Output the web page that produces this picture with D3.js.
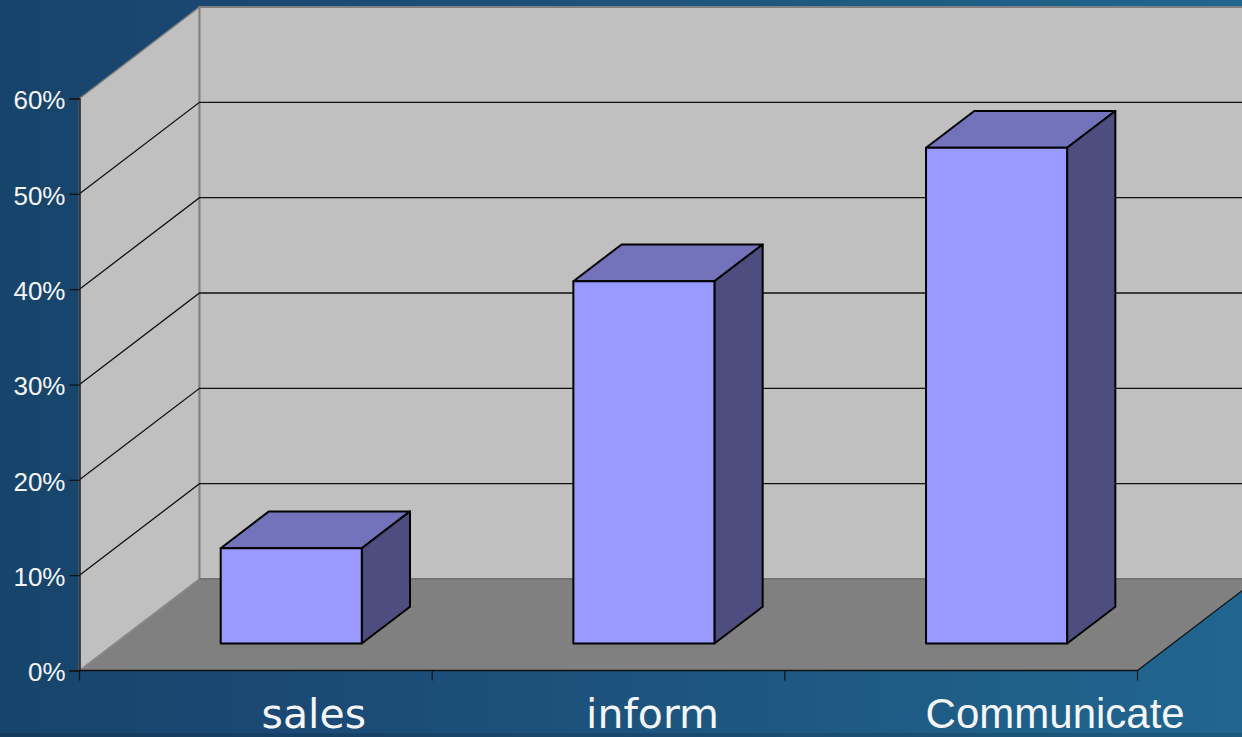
<!DOCTYPE html>
<html>
<head>
<meta charset="utf-8">
<script src="https://cdn.jsdelivr.net/npm/d3@7"></script>
<style>
  html, body { margin: 0; padding: 0; background: #1b4b72; overflow: hidden; }
  svg { display: block; font-family: "Liberation Sans", Arial, sans-serif; }
</style>
</head>
<body>
<svg id="chart" width="1242" height="737"></svg>
<script>
const categories = ["sales", "inform", "Communicate"];
const shares = [0.10, 0.38, 0.52];
const yTicks = [0, 0.1, 0.2, 0.3, 0.4, 0.5, 0.6];

// layout of the fake 3d box
const left = 79.5, right = 1137.5, bottom = 670.5, top60 = 98.5;
const depthX = 120, depthY = -91.5;
const barFront = 0.295, barBack = 0.697;
const labelShift = [58, 44, 94];
// the slide mixes two typefaces on the category labels
const labelFont = ["DejaVu Sans", "DejaVu Sans", "Liberation Sans"];
const labelSize = [41, 41, 42];
const labelBase = [728, 728, 728];

const svg = d3.select("#chart");

const defs = svg.append("defs");
const bg = defs.append("linearGradient").attr("id", "bg").attr("x1", "0%").attr("x2", "100%").attr("y1", "0%").attr("y2", "0%");
bg.append("stop").attr("offset", "0%").attr("stop-color", "#17446a");
bg.append("stop").attr("offset", "20%").attr("stop-color", "#1a4873");
bg.append("stop").attr("offset", "100%").attr("stop-color", "#21668f");

svg.append("rect").attr("width", 1242).attr("height", 737).attr("fill", "url(#bg)");
// darker strip along the bottom edge of the slide
svg.append("rect").attr("y", 733).attr("width", 1242).attr("height", 4).attr("fill", "#000").attr("opacity", 0.12);

const x = d3.scaleBand().domain(categories).range([left, right]).paddingInner(0.6).paddingOuter(0.3);
const y = d3.scaleLinear().domain([0, 0.6]).range([bottom, top60]);

const poly = (pts) => pts.map((p) => p.join(",")).join(" ");
const yMax = y(0.6), y0 = y(0);

// side wall
svg.append("polygon")
  .attr("points", poly([[left, y0], [left, yMax], [left + depthX, yMax + depthY], [left + depthX, y0 + depthY]]))
  .attr("fill", "#c0c0c0").attr("stroke", "#808080").attr("stroke-width", 1.5);

// back wall
svg.append("polygon")
  .attr("points", poly([[left + depthX, y0 + depthY], [left + depthX, yMax + depthY], [right + depthX, yMax + depthY], [right + depthX, y0 + depthY]]))
  .attr("fill", "#c0c0c0").attr("stroke", "#808080").attr("stroke-width", 2);

// floor
svg.append("polygon")
  .attr("points", poly([[left, y0], [right, y0], [right + depthX, y0 + depthY], [left + depthX, y0 + depthY]]))
  .attr("fill", "#808080");
svg.append("line")
  .attr("x1", left).attr("y1", y0).attr("x2", left + depthX).attr("y2", y0 + depthY)
  .attr("stroke", "#8c8c8c").attr("stroke-width", 1.5);
svg.append("line")
  .attr("x1", left + depthX).attr("y1", y0 + depthY).attr("x2", right + depthX).attr("y2", y0 + depthY)
  .attr("stroke", "#666").attr("stroke-width", 1);
svg.append("line")
  .attr("x1", right).attr("y1", y0).attr("x2", right + depthX).attr("y2", y0 + depthY)
  .attr("stroke", "#111").attr("stroke-width", 1.2);

// gridlines, skip 0 and the top edge
const grid = svg.append("g").attr("fill", "none").attr("stroke", "#111").attr("stroke-width", 1.3);
grid.selectAll("path").data(yTicks.slice(1, -1)).join("path")
  .attr("d", (t) => `M${left},${y(t)}L${left + depthX},${y(t) + depthY}H${right + depthX}`);

// bars
const px = (c, t) => x(c) + depthX * t;
const py = (v, t) => y(v) + depthY * t;
const w = x.bandwidth();

const bars = svg.append("g").attr("stroke", "#000").attr("stroke-width", 2).attr("stroke-linejoin", "round");
categories.forEach((c, i) => {
  const v = shares[i];
  const g = bars.append("g");
  const x0 = px(c, barFront), x1 = x0 + w;
  const x0b = px(c, barBack), x1b = x0b + w;
  const yT = py(v, barFront), yB = py(0, barFront);
  const yTb = py(v, barBack), yBb = py(0, barBack);
  g.append("polygon").attr("fill", "#7373bb")
    .attr("points", poly([[x0, yT], [x1, yT], [x1b, yTb], [x0b, yTb]]));
  g.append("polygon").attr("fill", "#4d4d7f")
    .attr("points", poly([[x1, yT], [x1b, yTb], [x1b, yBb], [x1, yB]]));
  g.append("rect").attr("fill", "#9999ff")
    .attr("x", x0).attr("y", yT).attr("width", w).attr("height", yB - yT);
});

// axes
const yAxis = d3.axisLeft(y).tickValues(yTicks).tickFormat(d3.format(".0%")).tickSize(10).tickPadding(4);
const gy = svg.append("g").attr("transform", `translate(${left},0)`).call(yAxis);
gy.select(".domain").attr("stroke", "#222").attr("stroke-width", 1.5);
gy.selectAll(".tick line").attr("stroke", "#111").attr("stroke-width", 1.2);
gy.selectAll(".tick text").attr("fill", "#f4f6f8").attr("font-size", 26).attr("font-family", "Liberation Sans").attr("dy", "0.4em");

const xAxis = d3.axisBottom(x).tickValues([]).tickSize(0);
const xEdges = d3.range(categories.length + 1).map((i) => left + (right - left) * i / categories.length);
const gx = svg.append("g").attr("transform", `translate(0,${y0})`).call(xAxis);
gx.select(".domain").attr("stroke", "#111").attr("stroke-width", 1.5).attr("d", `M${left},0H${right}`);
gx.selectAll("line.edge").data(xEdges).join("line").attr("class", "edge")
  .attr("x1", (d) => d).attr("x2", (d) => d).attr("y1", 0).attr("y2", 10)
  .attr("stroke", "#111").attr("stroke-width", 1.2);

svg.append("g").selectAll("text").data(categories).join("text")
  .attr("x", (c, i) => x(c) + w / 2 + labelShift[i])
  .attr("y", (c, i) => labelBase[i])
  .attr("text-anchor", "middle")
  .attr("fill", "#f4f6f8")
  .attr("font-family", (c, i) => labelFont[i])
  .attr("font-size", (c, i) => labelSize[i])
  .text((c) => c);
</script>
</body>
</html>
